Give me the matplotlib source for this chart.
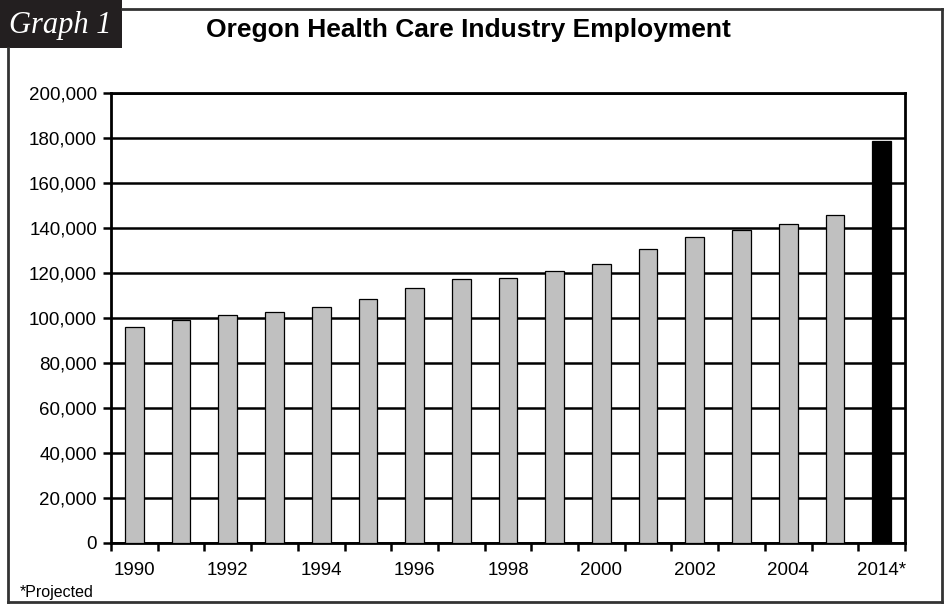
import numpy as np
import matplotlib.pyplot as plt
from matplotlib.patches import Rectangle
from matplotlib.lines import Line2D

# Data
years = ['1990', '1991', '1992', '1993', '1994', '1995', '1996', '1997', '1998',
         '1999', '2000', '2001', '2002', '2003', '2004', '2005', '2014*']
employment = [95800, 99200, 101300, 102500, 104700, 108500, 113400, 117300, 117700,
              120800, 123900, 130600, 135900, 138900, 141600, 145600, 178600]
bar_colors = ['#c0c0c0'] * 16 + ['#000000']
y_ticks = [0, 20000, 40000, 60000, 80000, 100000, 120000, 140000, 160000, 180000, 200000]

plt.rcParams['font.family'] = ['Liberation Sans', 'DejaVu Sans']

W, H = 945, 605
fig = plt.figure(figsize=(W / 100, H / 100), dpi=100)

# Plot area in pixels: left 111, right 905, top 93, bottom 542.5
ax = fig.add_axes([111 / W, 1 - 542.5 / H, (905 - 111) / W, (542.5 - 93) / H])

x = np.arange(len(years))
ax.bar(x, employment, width=0.4, color=bar_colors, edgecolor='black', linewidth=0.9, zorder=3)

ax.set_xlim(-0.5, len(years) - 0.5)
ax.set_ylim(0, 200000)
ax.set_yticks(y_ticks)
ax.set_yticklabels([f'{v:,}' for v in y_ticks], fontsize=13.5)
ax.yaxis.grid(True, color='black', linewidth=1.8, zorder=0)

# Category labels every other year, ticks between categories
ax.set_xticks(x[::2])
ax.set_xticklabels(years[::2], fontsize=13.5)
ax.set_xticks(np.arange(-0.5, len(years)), minor=True)
ax.tick_params(axis='x', which='major', length=0, pad=14)
ax.tick_params(axis='x', which='minor', length=6, width=1.8, direction='out')
ax.tick_params(axis='y', length=6, width=1.8, direction='out', pad=4)

for s in ax.spines.values():
    s.set_linewidth(2)
    s.set_color('black')

# Outer frame
frame = [([122, 942], [9, 9]), ([942, 942], [9, 602]),
         ([8, 942], [602, 602]), ([8, 8], [48, 602])]
for xs, ys in frame:
    fig.add_artist(Line2D([v / W for v in xs], [1 - v / H for v in ys], color='#333333',
                          lw=2, transform=fig.transFigure))

# "Graph 1" label box
fig.add_artist(Rectangle((0, 1 - 48 / H), 122 / W, 48 / H, facecolor='#231f20',
                         edgecolor='none', transform=fig.transFigure))
fig.text(60 / W, 1 - 25 / H, 'Graph 1', color='white', fontsize=22, style='italic',
         family=['Liberation Serif', 'DejaVu Serif'], ha='center', va='center')

fig.text(468 / W, 1 - 30 / H, 'Oregon Health Care Industry Employment', fontsize=19,
         fontweight='bold', ha='center', va='center')
fig.text(20 / W, 1 - 592 / H, '*Projected', fontsize=11.5, ha='left', va='center')

fig.savefig('out.png', dpi=100)
